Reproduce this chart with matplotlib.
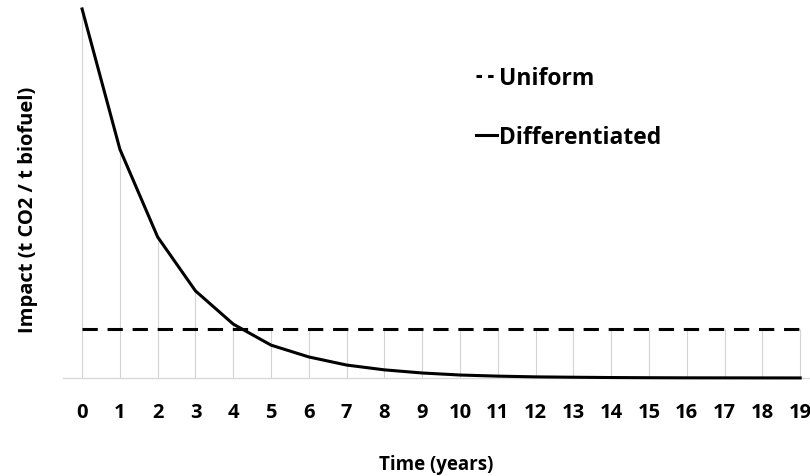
import matplotlib

matplotlib.use("Agg")
import matplotlib.pyplot as plt
from matplotlib.lines import Line2D
import numpy as np

years = list(range(20))
differentiated = [1.0, 0.62, 0.382, 0.236, 0.146, 0.089, 0.057, 0.035, 0.022, 0.0135,
                  0.008, 0.005, 0.003, 0.002, 0.0012, 0.0007, 0.0004, 0.0003, 0.0002, 0.0001]
uniform = [0.133] * 20

plt.rcParams["font.family"] = ["Open Sans", "DejaVu Sans"]
plt.rcParams["font.weight"] = "bold"

fig = plt.figure(figsize=(8.1, 4.77), dpi=100)
ax = fig.add_axes([0.078, 0.2055, 0.922, 0.7736])

x = np.array(years)
diff = np.array(differentiated)
uni = np.array(uniform)

ax.vlines(x, 0, np.maximum(diff, uni), color="#d3d3d3", linewidth=0.8, zorder=1)
ax.plot(x, uni, color="black", linewidth=2.2, linestyle=(0, (5, 3.2)), zorder=3)
ax.plot(x, diff, color="black", linewidth=2.2, zorder=3, clip_on=False)

ax.set_xlim(-0.5, 19.26)
ax.set_ylim(0, 1.0)
for side in ["top", "right", "left"]:
    ax.spines[side].set_visible(False)
ax.spines["bottom"].set_color("#d9d9d9")
ax.spines["bottom"].set_linewidth(1.0)
ax.set_yticks([])
ax.set_xticks(x)
ax.set_xticklabels([str(v) for v in years], fontsize=14.5, fontweight="bold")
ax.tick_params(axis="x", length=0, pad=17)
ax.set_xlabel("Time (years)", fontsize=13.5, fontweight="bold", labelpad=23)
ax.set_ylabel("Impact (t CO2 / t biofuel)", fontsize=14.5, fontweight="bold")
ax.yaxis.set_label_coords(-0.034, 0.458)

handles = [
    Line2D([], [], color="black", linewidth=2.2, linestyle=(0, (1.8, 2.0))),
    Line2D([], [], color="black", linewidth=2.2),
]
ax.legend(handles, ["Uniform", "Differentiated"], loc="upper left", bbox_to_anchor=(0.525, 0.90),
          frameon=False, handlelength=0.9, handletextpad=0.12, labelspacing=1.5,
          prop={"weight": "bold", "size": 16.5})

fig.savefig("out.png", dpi=100)
